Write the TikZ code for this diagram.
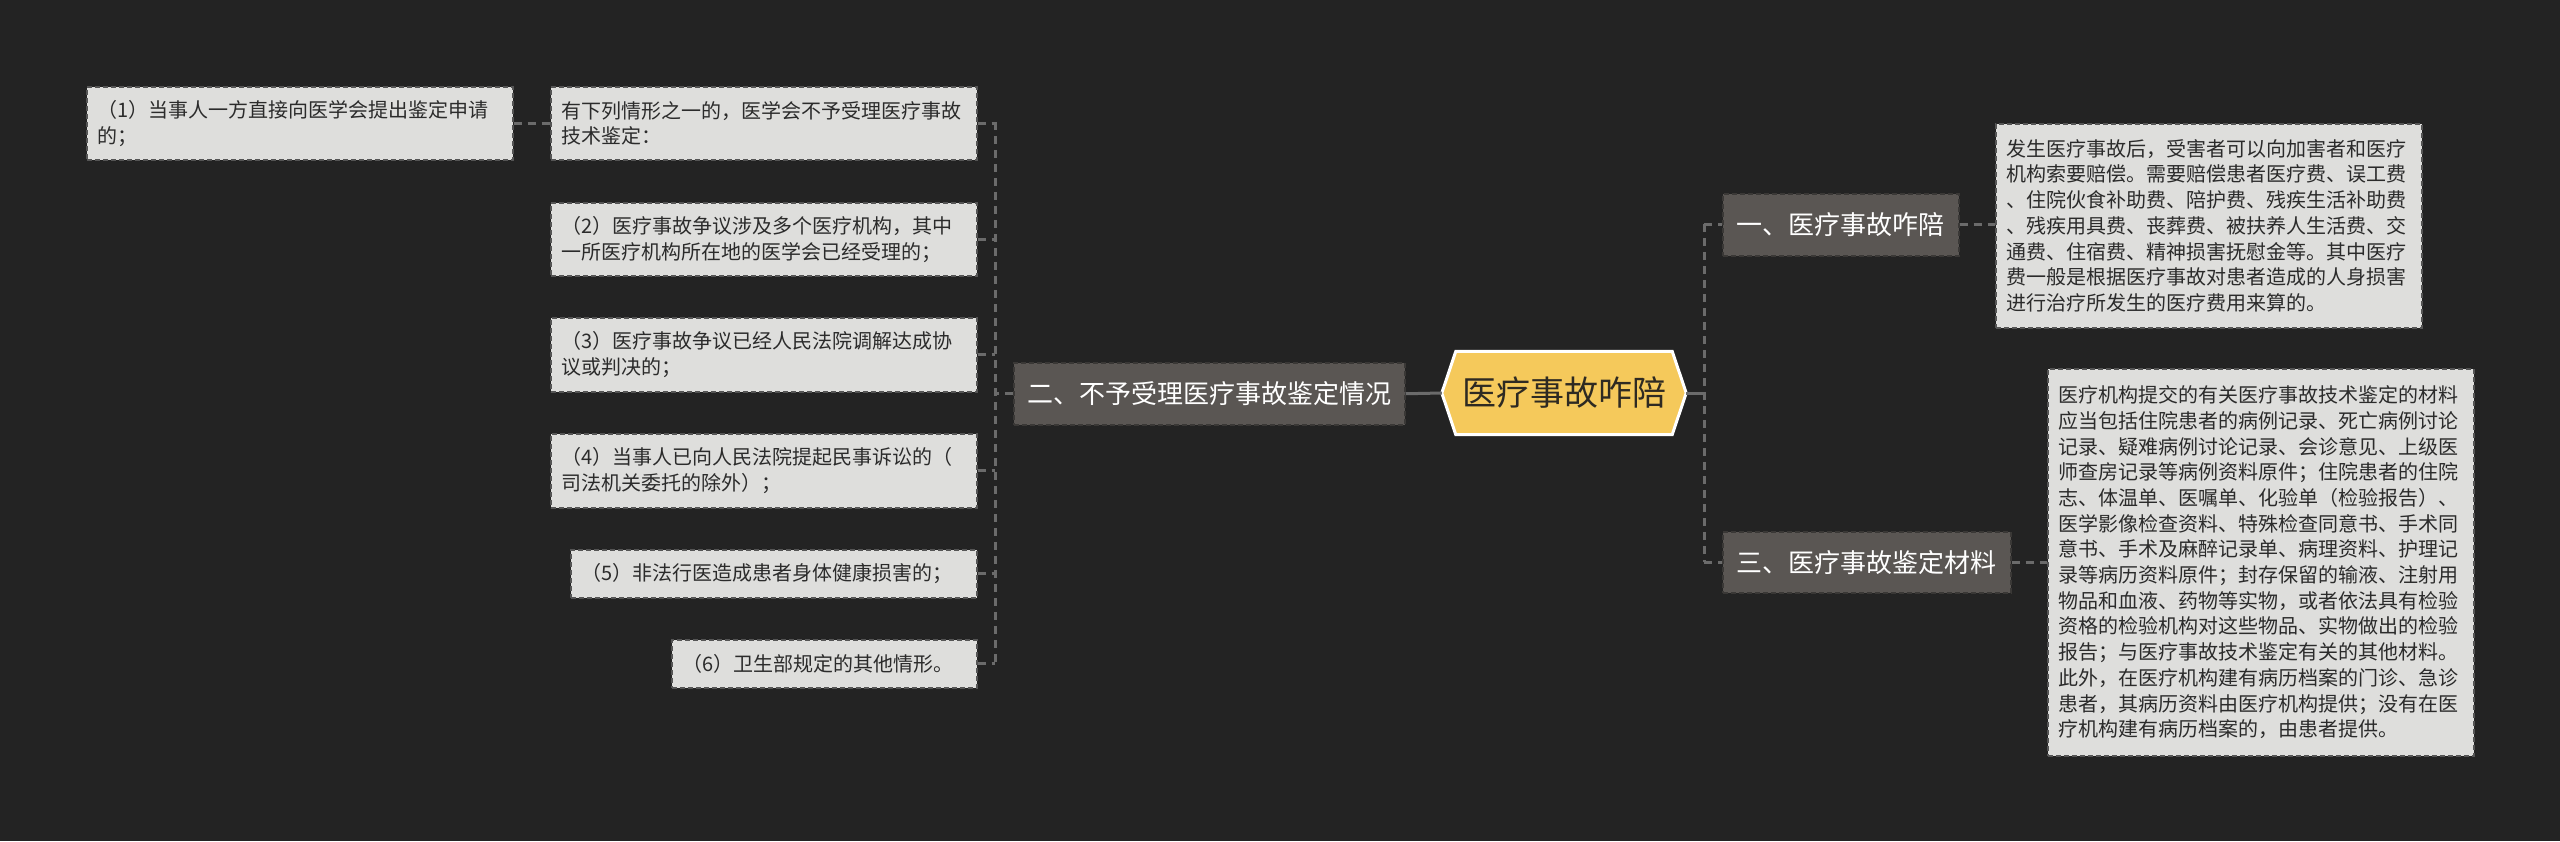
\documentclass[tikz,border=0pt]{standalone}
\usepackage{fontspec}
\newfontfamily\cjk{Noto Sans CJK SC}
\pgfdeclarelayer{back}
\pgfdeclarelayer{mid}
\pgfsetlayers{back,mid,main}
\definecolor{bgc}{HTML}{232323}
\definecolor{connc}{HTML}{6B6B6B}
\definecolor{mainfill}{HTML}{5A5653}
\definecolor{mainborder}{HTML}{3A3836}
\definecolor{leaffill}{HTML}{DEDEDC}
\definecolor{leafborder}{HTML}{555555}
\definecolor{leaftext}{HTML}{2B2B2B}
\definecolor{hexfill}{HTML}{F5C95B}
\definecolor{hextext}{HTML}{2E2A22}
\begin{document}
\begin{tikzpicture}[x=1pt,y=-1pt,
  leafbox/.style={draw=leafborder, line width=1.5pt, dash pattern=on 5pt off 3pt,
    fill=leaffill, text=leaftext, font=\cjk\fontsize{20}{25.7}\selectfont,
    align=left, inner xsep=11pt, inner ysep=0pt, anchor=north west},
  mainbox/.style={draw=mainborder, line width=1.5pt, dash pattern=on 5pt off 3pt,
    fill=mainfill, text=white, font=\cjk\fontsize{26}{30}\selectfont,
    inner sep=0pt, anchor=north west},
  conn/.style={draw=connc, line width=3pt, dash pattern=on 8pt off 6pt},
  solidconn/.style={draw=connc, line width=3pt},
]
\begin{pgfonlayer}{back}
\fill[bgc] (0,0) rectangle (2560,841);
\end{pgfonlayer}
\useasboundingbox (0,0) rectangle (2560,841);

% central node
\node[font=\cjk\fontsize{34}{38}\selectfont, text=hextext, minimum width=244pt, minimum height=83pt, inner sep=0pt] (c) at (1564,393) {医疗事故咋陪};
\begin{pgfonlayer}{mid}
\draw[fill=hexfill, draw=white, line width=3pt, line join=miter]
  ([xshift=14pt]c.north west) -- ([xshift=-14pt]c.north east) -- (c.east)
  -- ([xshift=-14pt]c.south east) -- ([xshift=14pt]c.south west) -- (c.west) -- cycle;
\end{pgfonlayer}

% main branches
\node[mainbox, minimum width=391pt, minimum height=62pt] (m2) at (1013,362) {二、不予受理医疗事故鉴定情况};
\node[mainbox, minimum width=236pt, minimum height=62pt] (m1) at (1722,193) {一、医疗事故咋陪};
\node[mainbox, minimum width=288pt, minimum height=61pt] (m3) at (1722,531) {三、医疗事故鉴定材料};

% left leaves
\node[leafbox, text width=404pt, minimum height=73pt] (a1) at (86,86) {（1）当事人一方直接向医学会提出鉴定申请\\的；};
\node[leafbox, text width=404pt, minimum height=73pt] (a0) at (550,86) {有下列情形之一的，医学会不予受理医疗事故\\技术鉴定：};
\node[leafbox, text width=404pt, minimum height=73pt] (a2) at (550,202) {（2）医疗事故争议涉及多个医疗机构，其中\\一所医疗机构所在地的医学会已经受理的；};
\node[leafbox, text width=404pt, minimum height=74pt] (a3) at (550,317) {（3）医疗事故争议已经人民法院调解达成协\\议或判决的；};
\node[leafbox, text width=404pt, minimum height=74pt] (a4) at (550,433) {（4）当事人已向人民法院提起民事诉讼的（\\司法机关委托的除外）；};
\node[leafbox, text width=384pt, minimum height=48pt] (a5) at (570,549) {（5）非法行医造成患者身体健康损害的；};
\node[leafbox, text width=283pt, minimum height=48pt] (a6) at (671,639) {（6）卫生部规定的其他情形。};

% right leaves
\node[leafbox, text width=404pt, minimum height=204pt] (b1) at (1995,123) {发生医疗事故后，受害者可以向加害者和医疗\\机构索要赔偿。需要赔偿患者医疗费、误工费\\、住院伙食补助费、陪护费、残疾生活补助费\\、残疾用具费、丧葬费、被扶养人生活费、交\\通费、住宿费、精神损害抚慰金等。其中医疗\\费一般是根据医疗事故对患者造成的人身损害\\进行治疗所发生的医疗费用来算的。};
\node[leafbox, text width=404pt, minimum height=387pt] (c1) at (2047,368) {医疗机构提交的有关医疗事故技术鉴定的材料\\应当包括住院患者的病例记录、死亡病例讨论\\记录、疑难病例讨论记录、会诊意见、上级医\\师查房记录等病例资料原件；住院患者的住院\\志、体温单、医嘱单、化验单（检验报告）、\\医学影像检查资料、特殊检查同意书、手术同\\意书、手术及麻醉记录单、病理资料、护理记\\录等病历资料原件；封存保留的输液、注射用\\物品和血液、药物等实物，或者依法具有检验\\资格的检验机构对这些物品、实物做出的检验\\报告；与医疗事故技术鉴定有关的其他材料。\\此外，在医疗机构建有病历档案的门诊、急诊\\患者，其病历资料由医疗机构提供；没有在医\\疗机构建有病历档案的，由患者提供。};

% connectors
\coordinate (lt) at (995,122);
\coordinate (lb) at (995,663);
\coordinate (rj) at (1704,393);
\coordinate (rt) at (1704,224);
\coordinate (rb) at (1704,562);

\draw[solidconn] (c.west) -- (m2.east);
\draw[solidconn] (c.east) -- (rj);
\draw[conn] (rt) -- (rb);
\draw[conn] (rt) -- (m1.west |- rt);
\draw[conn] (rb) -- (m3.west |- rb);
\draw[conn] (m1.east) -- (b1.west |- m1.east);
\draw[conn] (m3.east) -- (c1.west |- m3.east);

\draw[conn] (lt) -- (lb);
\draw[conn] (m2.west) -- (m2.west -| lt);
\draw[conn] (a0.east) -- (a0.east -| lt);
\draw[conn] (a2.east) -- (a2.east -| lt);
\draw[conn] (a3.east) -- (a3.east -| lt);
\draw[conn] (a4.east) -- (a4.east -| lt);
\draw[conn] (a5.east) -- (a5.east -| lt);
\draw[conn] (a6.east) -- (a6.east -| lt);
\draw[conn] (a1.east) -- (a0.west);
\end{tikzpicture}
\end{document}
